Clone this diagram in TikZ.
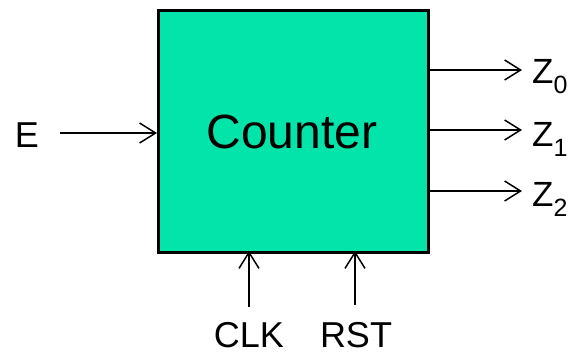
\documentclass[tikz,border=0pt]{standalone}
\usepackage{fontspec}
\setmainfont{Liberation Sans}
\usetikzlibrary{arrows.meta}
\definecolor{boxgreen}{RGB}{2,228,170}
\tikzset{
  sig/.style={line width=1.5pt, -{Straight Barb[length=16pt,width=20pt,line width=1.5pt]}},
  lbl/.style={inner sep=0pt, text depth=0pt, font=\fontsize{36}{36}\selectfont},
  zlbl/.style={inner sep=0pt, anchor=base west, font=\fontsize{35}{35}\selectfont},
}
\newcommand{\zsub}[1]{Z\raisebox{-10pt}{\fontsize{25}{25}\selectfont #1}}
\begin{document}
\begin{tikzpicture}[x=1pt, y=-1pt]
  \useasboundingbox (0,0) rectangle (575,354);
  % counter block
  \node[draw=black, line width=2.5pt, fill=boxgreen, minimum width=270pt, minimum height=242pt,
        inner sep=0pt, anchor=north west] (ctr) at (157,9) {};
  \node[inner sep=0pt, anchor=base, font=\fontsize{48}{48}\selectfont] (ctrtxt) at (292,148) {Counter};
  % input enable
  \node[lbl, anchor=base] (e) at (27,147) {E};
  \coordinate (ein) at (60,133);
  \coordinate (eend) at (157,133);
  \draw[sig] (ein) -- (eend);
  % outputs
  \foreach \i/\y/\b in {0/70/83, 1/130/146, 2/191/206} {
    \coordinate (zs\i) at (427,\y);
    \coordinate (ze\i) at (522,\y);
    \draw[sig] (zs\i) -- (ze\i);
    \node[zlbl] (z\i) at (532,\b) {\zsub{\i}};
  }
  % clock and reset
  \node[lbl, anchor=base] (clk) at (249,347) {CLK};
  \node[lbl, anchor=base] (rst) at (356,347) {RST};
  \coordinate (clkin) at (249,307);
  \coordinate (clkend) at (249,251);
  \coordinate (rstin) at (355,305);
  \coordinate (rstend) at (355,251);
  \draw[sig] (clkin) -- (clkend);
  \draw[sig] (rstin) -- (rstend);
\end{tikzpicture}
\end{document}
